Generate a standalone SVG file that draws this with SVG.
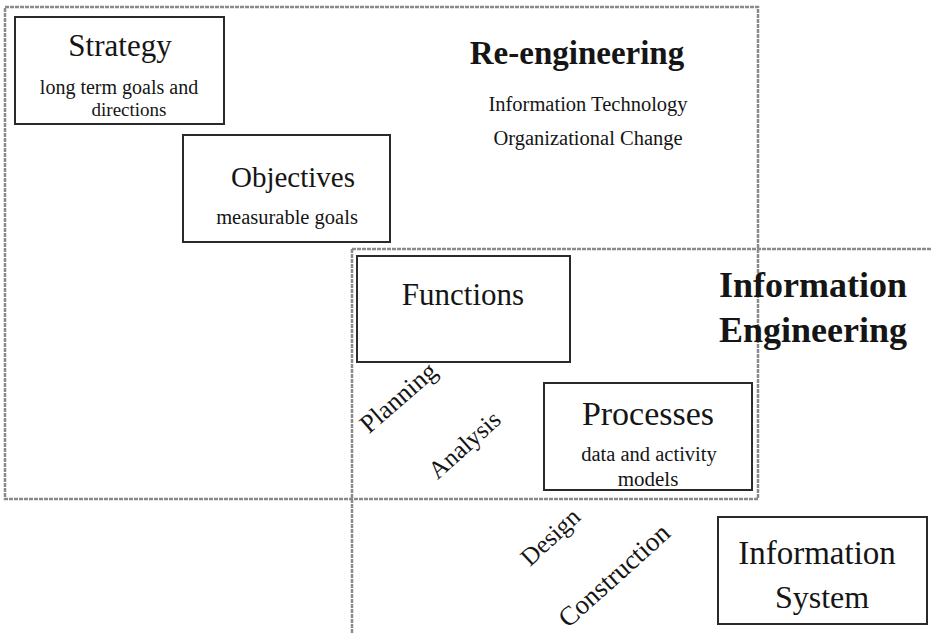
<svg xmlns="http://www.w3.org/2000/svg" width="931" height="634" viewBox="0 0 931 634">
<style>
.t{font-family:"Liberation Serif","Times New Roman",serif;fill:#151515;text-anchor:middle}
.b{font-weight:bold}
.box{fill:#fff;stroke:#2a2a2a;stroke-width:2}
.reg{fill:none;stroke:#8a8a8a;stroke-width:2.5;stroke-dasharray:4 1}
</style>
<rect width="931" height="634" fill="#fff"/>
<g id="connectors">
<rect class="reg" x="5" y="7" width="753" height="492"/>
<line class="reg" x1="352" y1="249" x2="931" y2="249"/>
<line class="reg" x1="352" y1="249" x2="352" y2="634"/>
</g>
<g id="reengineering">
<text class="t b" x="577" y="64" font-size="33">Re-engineering</text>
<text class="t" x="588" y="111" font-size="20.5">Information Technology</text>
<text class="t" x="588" y="145" font-size="20.5">Organizational Change</text>
</g>
<g id="information-engineering">
<text class="t b" x="813" y="297" font-size="36">Information</text>
<text class="t b" x="813" y="342" font-size="36">Engineering</text>
</g>
<g id="strategy">
<rect class="box" x="15" y="17" width="209" height="107"/>
<text class="t" x="120" y="56" font-size="31">Strategy</text>
<text class="t" x="119" y="94" font-size="20">long term goals and</text>
<text class="t" x="129" y="116" font-size="19">directions</text>
</g>
<g id="objectives">
<rect class="box" x="183" y="135" width="207" height="107"/>
<text class="t" x="293" y="187" font-size="29">Objectives</text>
<text class="t" x="287" y="224" font-size="20.5">measurable goals</text>
</g>
<g id="functions">
<rect class="box" x="357" y="256" width="213" height="106"/>
<text class="t" x="463" y="305" font-size="31">Functions</text>
</g>
<g id="processes">
<rect class="box" x="544" y="383" width="208" height="107"/>
<text class="t" x="648" y="425" font-size="34">Processes</text>
<text class="t" x="649" y="461" font-size="20.5">data and activity</text>
<text class="t" x="648" y="486" font-size="21">models</text>
</g>
<g id="information-system">
<rect class="box" x="718" y="517" width="209" height="107"/>
<text class="t" x="817" y="564" font-size="33">Information</text>
<text class="t" x="822" y="608" font-size="32">System</text>
</g>
<g id="phase-labels">
<text class="t" font-size="26" transform="translate(404,404) rotate(-41)">Planning</text>
<text class="t" font-size="25" transform="translate(470,451) rotate(-42)">Analysis</text>
<text class="t" font-size="25" transform="translate(556,543) rotate(-43)">Design</text>
<text class="t" font-size="27" transform="translate(620,582) rotate(-42)">Construction</text>
</g>
</svg>
